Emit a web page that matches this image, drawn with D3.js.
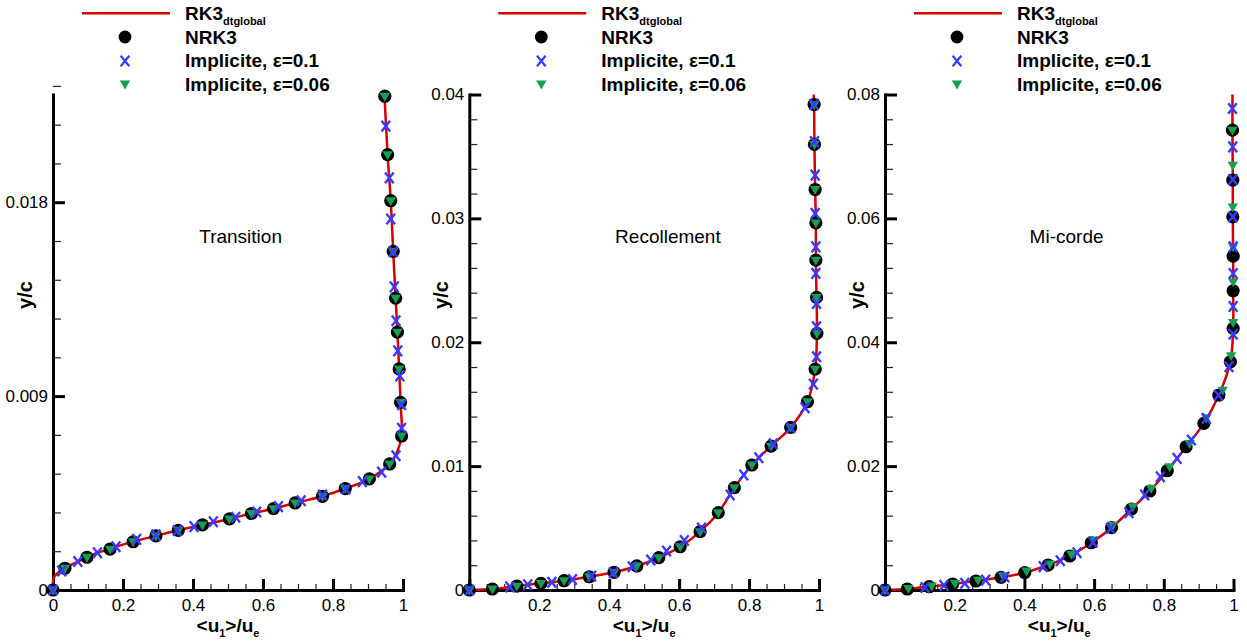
<!DOCTYPE html>
<html><head><meta charset="utf-8">
<script src="https://cdn.jsdelivr.net/npm/d3@7"></script>
<style>body{margin:0;background:#fff}svg{display:block}</style>
</head><body><svg id="c" width="1247" height="643"></svg>
<script>
// ---------------- DATA ----------------
const panelTitles = ["Transition", "Recollement", "Mi-corde"];
const legendLabels = ["RK3", "NRK3", "Implicite, ε=0.1", "Implicite, ε=0.06"];
const legendSub = "dtglobal";

const xTickValues = [0, 0.2, 0.4, 0.6, 0.8, 1];
const xTickLabelsFirst = ["0", "0.2", "0.4", "0.6", "0.8", "1"];
const xTickLabelsOther = ["", "0.2", "0.4", "0.6", "0.8", "1"];
const xMinorStep = 0.05;

const yTicksTransition = [0, 0.009, 0.018];
const yLabelsTransition = ["0", "0.009", "0.018"];
const yMaxTransition = 0.023;
const yMinorTransition = 0.0018;

const yTicksRecollement = [0, 0.01, 0.02, 0.03, 0.04];
const yLabelsRecollement = ["0", "0.01", "0.02", "0.03", "0.04"];
const yMaxRecollement = 0.04;
const yMinorRecollement = 0.002;

const yTicksMicorde = [0, 0.02, 0.04, 0.06, 0.08];
const yLabelsMicorde = ["0", "0.02", "0.04", "0.06", "0.08"];
const yMaxMicorde = 0.08;
const yMinorMicorde = 0.004;

// Transition
const trRk3U = [0,0.003,0.034,0.071,0.097,0.127,0.163,0.180,0.229,0.294,0.358,0.427,0.504,0.567,0.630,0.692,0.770,0.835,0.904,0.962,0.983,0.996,0.993,0.989,0.984,0.979,0.972,0.965,0.956,0.947];
const trRk3Y = [0,0.0006,0.00101,0.00132,0.00152,0.00173,0.00190,0.00201,0.00224,0.00251,0.00277,0.00302,0.00330,0.00355,0.00378,0.00404,0.00435,0.00471,0.00516,0.00585,0.0064,0.00715,0.00871,0.01026,0.01197,0.01355,0.01572,0.01807,0.02021,0.0230];
const trNrk3U = [0,0.034,0.097,0.163,0.229,0.294,0.358,0.427,0.504,0.567,0.630,0.692,0.770,0.835,0.904,0.962,0.996,0.993,0.989,0.984,0.979,0.972,0.965,0.956,0.948];
const trNrk3Y = [0,0.00101,0.00152,0.00190,0.00224,0.00251,0.00277,0.00302,0.00330,0.00355,0.00378,0.00404,0.00435,0.00471,0.00516,0.00585,0.00715,0.00871,0.01026,0.01197,0.01355,0.01572,0.01807,0.02021,0.02292];
const trImp01U = [0,0.025,0.071,0.127,0.180,0.239,0.294,0.355,0.403,0.458,0.522,0.582,0.644,0.709,0.770,0.837,0.884,0.939,0.980,0.996,0.996,0.991,0.985,0.980,0.975,0.972,0.965,0.961,0.951];
const trImp01Y = [0,0.00088,0.00132,0.00173,0.00201,0.00235,0.00256,0.00276,0.00294,0.00317,0.00338,0.00362,0.00387,0.00414,0.00441,0.00469,0.00503,0.00547,0.00623,0.00751,0.0086,0.00994,0.0111,0.0125,0.01407,0.0157,0.01722,0.01913,0.02153];
const trImp006U = [0,0.034,0.097,0.163,0.229,0.294,0.358,0.427,0.504,0.567,0.630,0.692,0.770,0.835,0.904,0.962,0.996,0.993,0.989,0.984,0.979,0.972,0.965,0.956,0.948];
const trImp006Y = [0,0.00101,0.00152,0.00190,0.00224,0.00251,0.00277,0.00302,0.00330,0.00355,0.00378,0.00404,0.00435,0.00471,0.00516,0.00585,0.00715,0.00871,0.01026,0.01197,0.01355,0.01572,0.01807,0.02021,0.02292];

// Recollement
const reRk3U = [0,0.066,0.136,0.205,0.271,0.343,0.414,0.479,0.542,0.603,0.660,0.712,0.758,0.808,0.863,0.919,0.967,0.989,0.994,0.993,0.991,0.991,0.989,0.987,0.986,0.985];
const reRk3Y = [0,0.00008,0.00032,0.00054,0.00075,0.00107,0.00143,0.00194,0.00261,0.00349,0.00471,0.00624,0.00826,0.01009,0.01162,0.01313,0.0152,0.01783,0.02071,0.02362,0.02663,0.02964,0.03233,0.03597,0.03919,0.0400];
const reNrk3U = [0,0.066,0.136,0.205,0.271,0.343,0.414,0.479,0.542,0.603,0.660,0.712,0.758,0.808,0.863,0.919,0.967,0.989,0.994,0.993,0.991,0.991,0.989,0.987,0.986];
const reNrk3Y = [0,0.00008,0.00032,0.00054,0.00075,0.00107,0.00143,0.00194,0.00261,0.00349,0.00471,0.00624,0.00826,0.01009,0.01162,0.01313,0.0152,0.01783,0.02071,0.02362,0.02663,0.02964,0.03233,0.03597,0.03919];
const reImp01U = [0,0.116,0.167,0.236,0.295,0.350,0.412,0.466,0.519,0.564,0.615,0.664,0.746,0.785,0.828,0.869,0.919,0.960,0.984,0.993,0.993,0.993,0.991,0.991,0.989,0.989,0.987,0.986];
const reImp01Y = [0,0.00025,0.00042,0.00062,0.00085,0.00112,0.0014,0.00188,0.00242,0.00315,0.0040,0.0050,0.00767,0.00928,0.01068,0.0118,0.0131,0.01471,0.01662,0.01883,0.02125,0.02313,0.02556,0.0277,0.0304,0.03349,0.0362,0.0392];
const reImp006U = [0,0.066,0.136,0.205,0.271,0.343,0.414,0.479,0.542,0.603,0.660,0.712,0.758,0.808,0.863,0.919,0.967,0.989,0.994,0.993,0.991,0.991,0.989,0.987,0.986];
const reImp006Y = [0,0.00008,0.00032,0.00054,0.00075,0.00107,0.00143,0.00194,0.00261,0.00349,0.00471,0.00624,0.00826,0.01009,0.01162,0.01313,0.0152,0.01783,0.02071,0.02362,0.02663,0.02964,0.03233,0.03597,0.03919];

// Mi-corde
const mcRk3U = [0,0.064,0.127,0.194,0.261,0.333,0.401,0.468,0.530,0.592,0.650,0.707,0.760,0.810,0.864,0.915,0.958,0.991,0.999,0.999,0.999,0.998,0.998,0.997,0.997];
const mcRk3Y = [0,0.00016,0.00053,0.00097,0.00145,0.00205,0.0028,0.00403,0.00549,0.00763,0.01006,0.01307,0.01598,0.01926,0.02313,0.0269,0.03147,0.03685,0.04223,0.04831,0.0539,0.06025,0.06617,0.07424,0.0800];
const mcNrk3U = [0,0.064,0.127,0.194,0.261,0.333,0.401,0.468,0.530,0.592,0.650,0.707,0.760,0.810,0.864,0.915,0.958,0.991,0.999,0.999,0.999,0.998,0.998,0.997];
const mcNrk3Y = [0,0.00016,0.00053,0.00097,0.00145,0.00205,0.0028,0.00403,0.00549,0.00763,0.01006,0.01307,0.01598,0.01926,0.02313,0.0269,0.03147,0.03685,0.04223,0.04831,0.0539,0.06025,0.06617,0.07424];
const mcImp01U = [0,0.115,0.169,0.229,0.289,0.344,0.454,0.503,0.551,0.597,0.647,0.700,0.745,0.790,0.838,0.879,0.922,0.957,0.987,0.999,0.999,0.999,0.999,0.998,0.998,0.998,0.997];
const mcImp01Y = [0,0.0004,0.00075,0.0011,0.0016,0.0021,0.00377,0.00473,0.00602,0.0077,0.00995,0.01248,0.01533,0.01829,0.02125,0.02421,0.02771,0.03147,0.03604,0.0413,0.04578,0.05111,0.05541,0.06025,0.06628,0.07155,0.07774];
const mcImp006U = [0,0.067,0.134,0.201,0.267,0.339,0.406,0.473,0.535,0.597,0.654,0.711,0.764,0.817,0.874,0.922,0.969,0.993,0.999,0.999,0.999,0.998,0.998,0.997];
const mcImp006Y = [0,0.00027,0.00065,0.00108,0.00161,0.00231,0.00307,0.0042,0.00576,0.00807,0.01049,0.01345,0.01641,0.0199,0.02367,0.02781,0.03228,0.03782,0.0432,0.04976,0.05541,0.06187,0.0686,0.07424];

// ---------------- LAYOUT / STYLE ----------------
const FONT = "'Liberation Sans', Arial, Helvetica, sans-serif";
const C_RED = "#d40000", C_BLUE = "#3a3aff", C_GREEN = "#14a04e";
const Y0 = 590, YTOP = 94.5;

const zip = (u, y) => u.map((v, i) => ({u: v, y: y[i]}));

const panels = [
  {x0: 53, x1: 403, ymax: yMaxTransition, yt: yTicksTransition, yl: yLabelsTransition, ym: yMinorTransition,
   xl: xTickLabelsFirst, title: panelTitles[0], tu: 0.536,
   rk3: zip(trRk3U, trRk3Y), nrk3: zip(trNrk3U, trNrk3Y), i01: zip(trImp01U, trImp01Y), i006: zip(trImp006U, trImp006Y)},
  {x0: 469.3, x1: 819, ymax: yMaxRecollement, yt: yTicksRecollement, yl: yLabelsRecollement, ym: yMinorRecollement,
   xl: xTickLabelsOther, title: panelTitles[1], tu: 0.568,
   rk3: zip(reRk3U, reRk3Y), nrk3: zip(reNrk3U, reNrk3Y), i01: zip(reImp01U, reImp01Y), i006: zip(reImp006U, reImp006Y)},
  {x0: 885, x1: 1233.5, ymax: yMaxMicorde, yt: yTicksMicorde, yl: yLabelsMicorde, ym: yMinorMicorde,
   xl: xTickLabelsOther, title: panelTitles[2], tu: 0.521,
   rk3: zip(mcRk3U, mcRk3Y), nrk3: zip(mcNrk3U, mcNrk3Y), i01: zip(mcImp01U, mcImp01Y), i006: zip(mcImp006U, mcImp006Y)}
];

const svg = d3.select("#c");
svg.append("rect").attr("width", 1247).attr("height", 643).attr("fill", "#fff");

const crossPath = "M-4.3,-5.3L4.3,5.3M-4.3,5.3L4.3,-5.3";
const triPath = "M-5.2,-3.4L5.2,-3.4L0,5.5Z";

function range(step, max) {
  const n = Math.round(max / step);
  return d3.range(0, n + 1).map(i => +(i * step).toFixed(6));
}

panels.forEach(p => {
  const x = d3.scaleLinear().domain([0, 1]).range([p.x0, p.x1]);
  const y = d3.scaleLinear().domain([0, p.ymax]).range([Y0, YTOP]);
  const g = svg.append("g");

  // minor ticks
  const xMinor = range(xMinorStep, 1).filter(v => !xTickValues.some(t => Math.abs(t - v) < 1e-6));
  const yMinor = range(p.ym, p.ymax).filter(v => !p.yt.some(t => Math.abs(t - v) < 1e-6));
  const gxm = g.append("g").attr("transform", `translate(0,${Y0})`)
    .call(d3.axisBottom(x).tickValues(xMinor).tickSizeInner(-6).tickSizeOuter(0).tickFormat(""));
  gxm.select(".domain").remove();
  gxm.selectAll("line").attr("stroke", "#222").attr("stroke-width", 1.2);
  const gym = g.append("g").attr("transform", `translate(${p.x0},0)`)
    .call(d3.axisLeft(y).tickValues(yMinor).tickSizeInner(-8).tickSizeOuter(0).tickFormat(""));
  gym.select(".domain").remove();
  gym.selectAll("line").attr("stroke", "#222").attr("stroke-width", 1.2);

  // major axes
  const gx = g.append("g").attr("transform", `translate(0,${Y0})`)
    .call(d3.axisBottom(x).tickValues(xTickValues).tickSizeInner(-11).tickSizeOuter(0).tickPadding(9)
      .tickFormat((d, i) => p.xl[i]));
  const gy = g.append("g").attr("transform", `translate(${p.x0},0)`)
    .call(d3.axisLeft(y).tickValues(p.yt).tickSizeInner(-12).tickSizeOuter(0).tickPadding(5)
      .tickFormat((d, i) => p.yl[i]));
  [gx, gy].forEach(a => {
    a.select(".domain").attr("stroke", "#000").attr("stroke-width", 3).attr("stroke-linecap", "square");
    a.selectAll(".tick line").attr("stroke", "#000").attr("stroke-width", 3);
    a.selectAll("text").attr("font-family", FONT).attr("font-size", 17).attr("fill", "#000");
  });

  // axis titles
  const xt = g.append("text").attr("x", (p.x0 + p.x1) / 2).attr("y", 632)
    .attr("text-anchor", "middle").attr("font-family", FONT).attr("font-weight", "bold")
    .attr("font-size", 19);
  xt.append("tspan").text("<u");
  xt.append("tspan").attr("dy", 5).attr("font-size", 11).text("1");
  xt.append("tspan").attr("dy", -5).text(">/u");
  xt.append("tspan").attr("dy", 5).attr("font-size", 11).text("e");

  g.append("text").attr("transform", `translate(${p.x0 - 21},295) rotate(-90)`)
    .attr("text-anchor", "middle").attr("font-family", FONT).attr("font-weight", "bold")
    .attr("font-size", 20).text("y/c");

  // panel title
  g.append("text").attr("x", x(p.tu)).attr("y", 243).attr("text-anchor", "middle")
    .attr("font-family", FONT).attr("font-size", 19).text(p.title);

  // line
  g.append("path").datum(p.rk3)
    .attr("d", d3.line().x(d => x(d.u)).y(d => y(d.y)).curve(d3.curveCatmullRom.alpha(0.5)))
    .attr("fill", "none").attr("stroke", C_RED).attr("stroke-width", 2.5);

  // markers
  g.append("g").selectAll("circle").data(p.nrk3).join("circle")
    .attr("cx", d => x(d.u)).attr("cy", d => y(d.y)).attr("r", 6.6).attr("fill", "#000");
  g.append("g").selectAll("path").data(p.i006).join("path")
    .attr("transform", d => `translate(${x(d.u)},${y(d.y)})`).attr("d", triPath).attr("fill", C_GREEN);
  g.append("g").selectAll("path").data(p.i01).join("path")
    .attr("transform", d => `translate(${x(d.u)},${y(d.y)})`).attr("d", crossPath)
    .attr("fill", "none").attr("stroke", C_BLUE).attr("stroke-width", 2.4);

  // legend
  const lg = svg.append("g").attr("font-family", FONT).attr("font-weight", "bold").attr("font-size", 19);
  const mx = p.x0 + 72, tx = p.x0 + 132;
  lg.append("line").attr("x1", p.x0 + 29).attr("x2", p.x0 + 117).attr("y1", 13.3).attr("y2", 13.3)
    .attr("stroke", C_RED).attr("stroke-width", 2.5);
  const t0 = lg.append("text").attr("x", tx).attr("y", 20);
  t0.append("tspan").text(legendLabels[0]);
  t0.append("tspan").attr("dy", 5).attr("font-size", 11).text(legendSub);
  lg.append("circle").attr("cx", mx).attr("cy", 37).attr("r", 6.4).attr("fill", "#000");
  lg.append("text").attr("x", tx).attr("y", 43.5).text(legendLabels[1]);
  lg.append("path").attr("transform", `translate(${mx},61)`).attr("d", crossPath)
    .attr("fill", "none").attr("stroke", C_BLUE).attr("stroke-width", 2.2);
  lg.append("text").attr("x", tx).attr("y", 67).text(legendLabels[2]);
  lg.append("path").attr("transform", `translate(${mx},84)`).attr("d", triPath).attr("fill", C_GREEN);
  lg.append("text").attr("x", tx).attr("y", 90.5).text(legendLabels[3]);
});
</script></body></html>
